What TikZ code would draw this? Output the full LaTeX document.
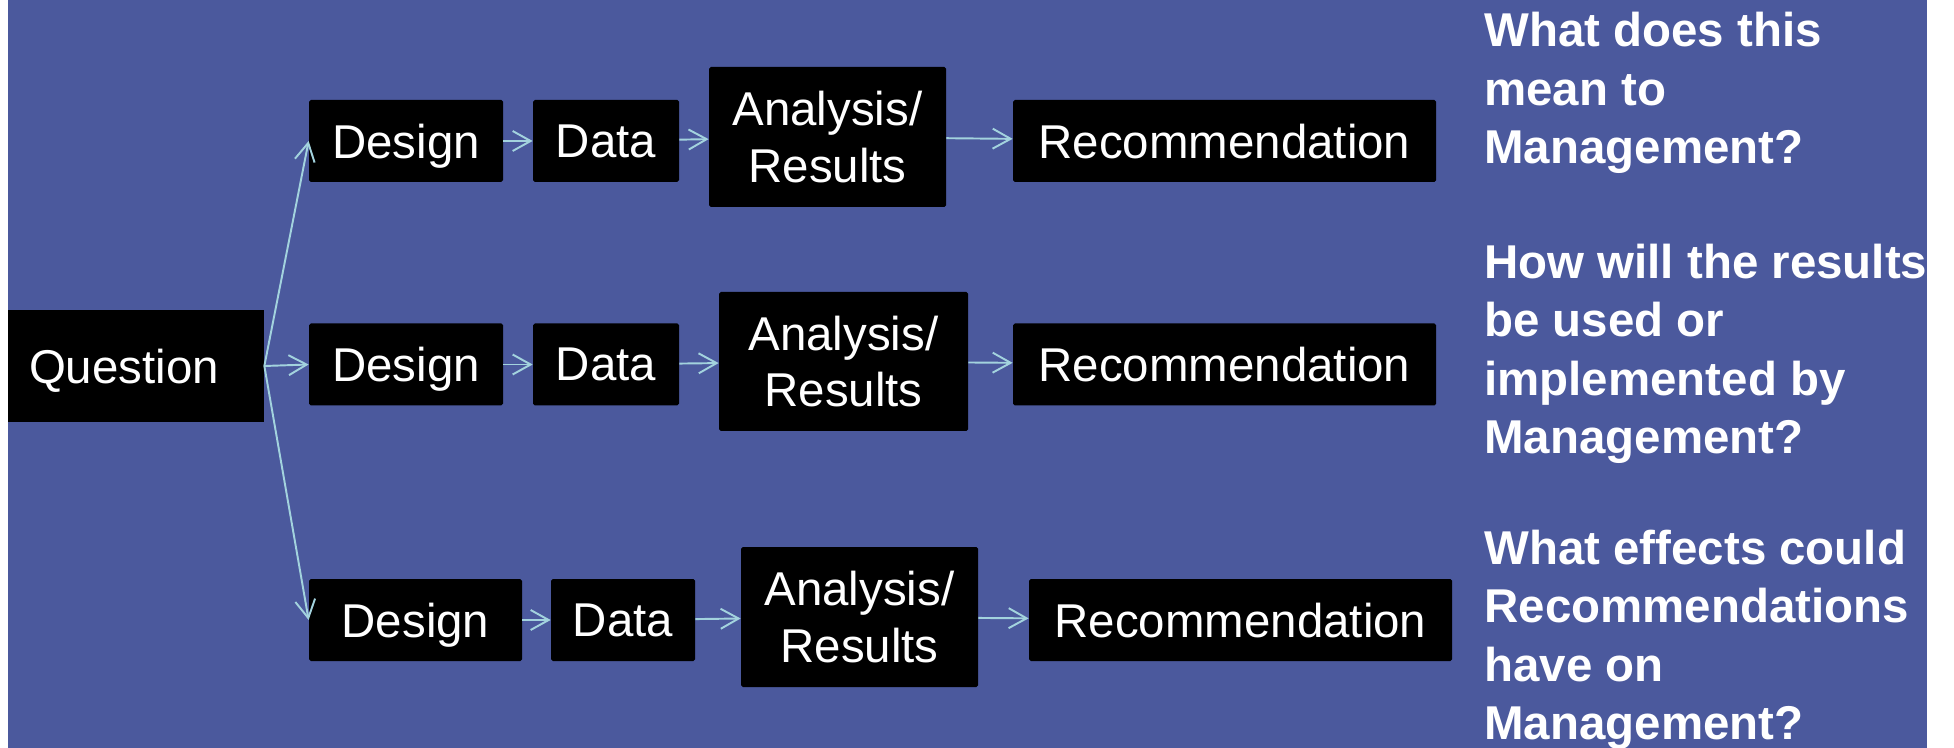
\documentclass[tikz,border=0pt]{standalone}
\usepackage{fontspec}
\setmainfont{Liberation Sans}
\usetikzlibrary{arrows.meta}
\definecolor{bgblue}{RGB}{75,89,157}
\definecolor{arrowc}{RGB}{163,211,222}
\tikzset{
  blk/.style={fill=black, text=white, rounded corners=1pt, minimum height=1.64cm, inner xsep=0pt, align=center, font=\fontsize{27}{32}\selectfont},
  flat/.style={blk, text depth=0pt},
  ask/.style={text=white, anchor=west, align=left, inner sep=0pt, font=\fontsize{27}{33.3}\selectfont\bfseries},
  link/.style={->, arrowc, line width=1.1pt}
}
\begin{document}
\begin{tikzpicture}[>={Straight Barb[length=3.6mm,width=4mm]}]
\useasboundingbox(0,0)rectangle(39.08,-14.96);
\fill[white](0,0)rectangle(39.08,-14.96);
\fill[bgblue](0.16,0)rectangle(38.54,-14.96);
\node[flat, minimum width=5.12cm, minimum height=2.24cm, rounded corners=0pt](q) at (2.72,-7.32){\hspace*{-0.48cm}Question};
\node[flat, minimum width=3.88cm](d1) at (8.12,-2.82){Design};
\node[flat, minimum width=2.92cm](t1) at (12.12,-2.82){Data};
\node[blk, minimum width=4.74cm, minimum height=2.80cm](a1) at (16.55,-2.74){Analysis/\\Results};
\node[flat, minimum width=8.46cm](r1) at (24.49,-2.82){Recommendation};
\node[flat, minimum width=3.88cm](d2) at (8.12,-7.29){Design};
\node[flat, minimum width=2.92cm](t2) at (12.12,-7.29){Data};
\node[blk, minimum width=4.98cm, minimum height=2.78cm](a2) at (16.87,-7.23){Analysis/\\Results};
\node[flat, minimum width=8.46cm](r2) at (24.49,-7.29){Recommendation};
\node[flat, minimum width=4.26cm](d3) at (8.31,-12.40){Design};
\node[flat, minimum width=2.88cm](t3) at (12.46,-12.40){Data};
\node[blk, minimum width=4.74cm, minimum height=2.80cm](a3) at (17.19,-12.34){Analysis/\\Results};
\node[flat, minimum width=8.46cm](r3) at (24.81,-12.40){Recommendation};
\node[ask](w1) at (29.68,-1.86){What does this\\mean to\\Management?};
\node[ask](w2) at (29.68,-7.08){How will the results\\be used or\\implemented by\\Management?};
\node[ask](w3) at (29.68,-12.80){What effects could\\Recommendations\\have on\\Management?};
\draw[link](q.east)--(d1.west);
\draw[link](q.east)--(d2.west);
\draw[link](q.east)--(d3.west);
\draw[link](d1)--(t1);
\draw[link](t1)--(a1);
\draw[link](a1)--(r1);
\draw[link](d2)--(t2);
\draw[link](t2)--(a2);
\draw[link](a2)--(r2);
\draw[link](d3)--(t3);
\draw[link](t3)--(a3);
\draw[link](a3)--(r3);
\end{tikzpicture}
\end{document}
